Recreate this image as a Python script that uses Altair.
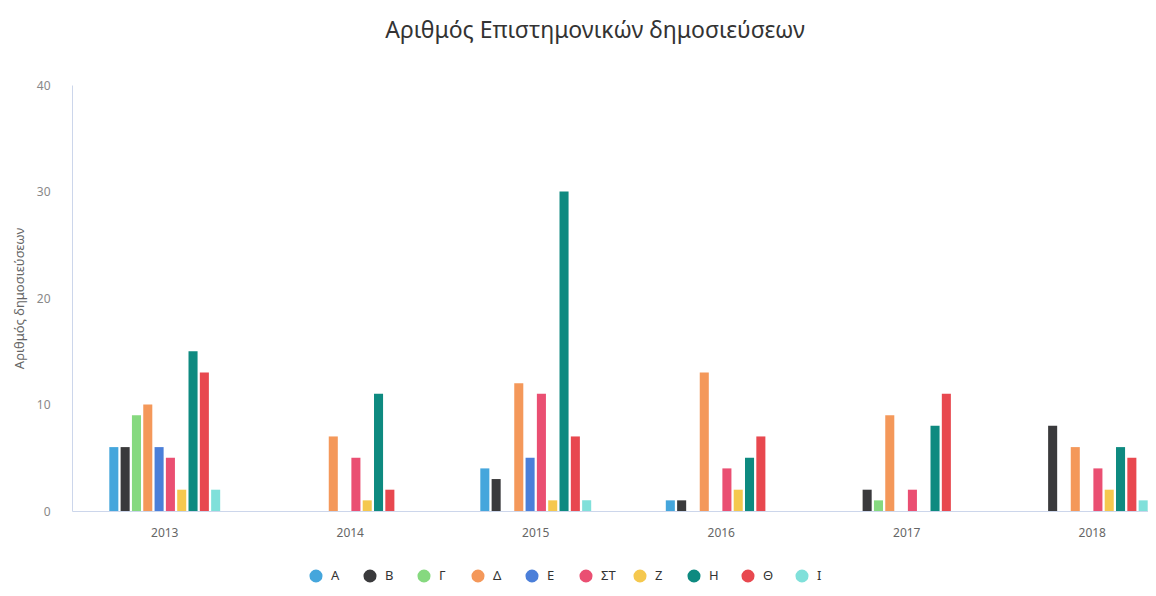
import altair as alt
import pandas as pd

years = ["2013", "2014", "2015", "2016", "2017", "2018"]
series = ["Α", "Β", "Γ", "Δ", "Ε", "ΣΤ", "Ζ", "Η", "Θ", "Ι"]
colors = ["#45a6dc", "#3a3a3c", "#86d97f", "#f4985a", "#4b7fd9",
          "#ea4f72", "#f5c84e", "#0e8a80", "#e8484f", "#80e0da"]

val_A = [6, None, 4, 1, None, None]
val_B = [6, None, 3, 1, 2, 8]
val_G = [9, None, None, None, 1, None]
val_D = [10, 7, 12, 13, 9, 6]
val_E = [6, None, 5, None, None, None]
val_ST = [5, 5, 11, 4, 2, 4]
val_Z = [2, 1, 1, 2, None, 2]
val_H = [15, 11, 30, 5, 8, 6]
val_TH = [13, 2, 7, 7, 11, 5]
val_I = [2, None, 1, None, None, 1]

all_vals = [val_A, val_B, val_G, val_D, val_E, val_ST, val_Z, val_H, val_TH, val_I]

rows = []
for s, vals in zip(series, all_vals):
    for y, v in zip(years, vals):
        if v is not None:
            rows.append({"year": y, "series": s, "value": v})
df = pd.DataFrame(rows)

W = 1076
H = 426
FONT = "Noto Sans"

chart = alt.Chart(df).mark_bar(clip=True).encode(
    x=alt.X("year:N", sort=years,
            scale=alt.Scale(domain=years, range=[0, 1113], paddingInner=0.39, paddingOuter=0.195),
            axis=alt.Axis(title=None, domain=True, domainColor="#ccd6eb", ticks=False, tickSize=0,
                          labelPadding=16, labelFontSize=12, labelColor="#666666",
                          labelFont=FONT, labelAngle=0)),
    xOffset=alt.XOffset("series:N", sort=series,
                        scale=alt.Scale(domain=series, paddingInner=0.2, paddingOuter=0.1)),
    y=alt.Y("value:Q", scale=alt.Scale(domain=[0, 40]),
            axis=alt.Axis(title="Αριθμός δημοσιεύσεων", values=[0, 10, 20, 30, 40], grid=False,
                          ticks=False, tickSize=0, domainColor="#ccd6eb", labelPadding=22,
                          labelFontSize=12, labelColor="#888888", labelFont=FONT,
                          titleFont=FONT, titleFontSize=13, titleColor="#666666",
                          titleFontWeight="normal", titlePadding=10)),
    color=alt.Color("series:N", sort=series,
                    scale=alt.Scale(domain=series, range=colors),
                    legend=alt.Legend(title=None, orient="none", legendX=237, legendY=484,
                                      direction="horizontal", symbolType="circle",
                                      symbolSize=170, symbolStrokeWidth=0, labelFontSize=13,
                                      labelFont=FONT, labelColor="#333333", labelOffset=8,
                                      gridAlign="all", columnPadding=17)),
).properties(
    width=W, height=H,
    autosize=alt.AutoSizeParams(type="none"),
    view=alt.ViewBackground(stroke="transparent", strokeWidth=0),
    title=alt.TitleParams("Αριθμός Επιστημονικών δημοσιεύσεων", fontSize=23, font=FONT,
                          fontWeight="normal", color="#333333", anchor="middle",
                          offset=36, dx=-15),
    padding={"left": 64, "top": 77, "right": 0, "bottom": 75},
).configure_view(strokeWidth=0, stroke="transparent").configure(background="white")

chart.save("out.html", embed_options={"renderer": "svg", "actions": False})
